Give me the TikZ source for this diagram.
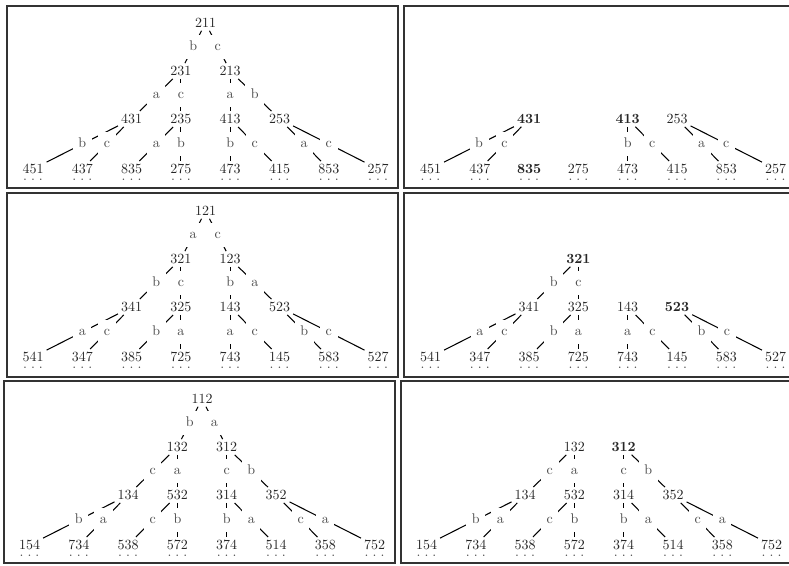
\documentclass[tikz,border=0pt]{standalone}
\usetikzlibrary{calc}
\tikzset{
  x=0.71429pt, y=-0.71429pt,
  num/.style={inner sep=2pt, text=black!85},
  bnum/.style={num, font=\bfseries},
  lab/.style={fill=white, inner sep=4pt, text height=7pt, text depth=2.5pt, text=black!70},
  edge/.style={draw=black, line width=0.75pt},
  frame/.style={draw=black!80, line width=1.2pt},
  dotsn/.style={inner sep=0pt, text=black!70}
}
\def\xa{33}\def\xb{82.3}\def\xc{131.6}\def\xd{180.9}
\def\xe{230.2}\def\xf{279.5}\def\xg{328.8}\def\xh{378.1}
\def\xr{205.5}
\newcommand\leaf[5][num]{\node[#1] (#2) at (#3,#4) {#5};
  \node[dotsn] (#2d) at ([yshift=-7.4pt]#2.center) {.\kern2.9pt.\kern2.9pt.};}
\newcommand\ed[3]{\draw[edge] (#1) -- node[lab]{#3} (#2);}
\begin{document}
\begin{tikzpicture}
\useasboundingbox (0,0) rectangle (789,565);
% frames
\draw[frame] (7,6) rectangle (398,188);
\draw[frame] (792,6) -- (404,6) -- (404,188) -- (792,188);
\draw[frame] (7,193) rectangle (398,377);
\draw[frame] (792,193) -- (404,193) -- (404,377) -- (792,377);
\draw[frame] (4,381) rectangle (395,563);
\draw[frame] (792,381) -- (401,381) -- (401,563) -- (792,563);

% ---------- top left ----------
\begin{scope}
\node[num] (A211) at (\xr,23) {211};
\node[num] (A231) at (\xd,71) {231};
\node[num] (A213) at (\xe,71) {213};
\node[num] (A431) at (\xc,119) {431};
\node[num] (A235) at (\xd,119) {235};
\node[num] (A413) at (\xe,119) {413};
\node[num] (A253) at (\xf,119) {253};
\leaf{A451}{\xa}{169}{451}
\leaf{A437}{\xb}{169}{437}
\leaf{A835}{\xc}{169}{835}
\leaf{A275}{\xd}{169}{275}
\leaf{A473}{\xe}{169}{473}
\leaf{A415}{\xf}{169}{415}
\leaf{A853}{\xg}{169}{853}
\leaf{A257}{\xh}{169}{257}
\ed{A211}{A231}{b}\ed{A211}{A213}{c}
\ed{A231}{A431}{a}\ed{A231}{A235}{c}
\ed{A213}{A413}{a}\ed{A213}{A253}{b}
\ed{A431}{A451}{b}\ed{A431}{A437}{c}
\ed{A235}{A835}{a}\ed{A235}{A275}{b}
\ed{A413}{A473}{b}\ed{A413}{A415}{c}
\ed{A253}{A853}{a}\ed{A253}{A257}{c}
\end{scope}

% ---------- top right ----------
\begin{scope}[shift={(397.5,0)}]
\node[bnum] (B431) at (\xc,119) {431};
\node[bnum] (B413) at (\xe,119) {413};
\node[num] (B253) at (\xf,119) {253};
\leaf{B451}{\xa}{169}{451}
\leaf{B437}{\xb}{169}{437}
\leaf[bnum]{B835}{\xc}{169}{835}
\leaf{B275}{\xd}{169}{275}
\leaf{B473}{\xe}{169}{473}
\leaf{B415}{\xf}{169}{415}
\leaf{B853}{\xg}{169}{853}
\leaf{B257}{\xh}{169}{257}
\ed{B431}{B451}{b}\ed{B431}{B437}{c}
\ed{B413}{B473}{b}\ed{B413}{B415}{c}
\ed{B253}{B853}{a}\ed{B253}{B257}{c}
\end{scope}

% ---------- middle left ----------
\begin{scope}[shift={(0,188)}]
\node[num] (C121) at (\xr,23) {121};
\node[num] (C321) at (\xd,71) {321};
\node[num] (C123) at (\xe,71) {123};
\node[num] (C341) at (\xc,119) {341};
\node[num] (C325) at (\xd,119) {325};
\node[num] (C143) at (\xe,119) {143};
\node[num] (C523) at (\xf,119) {523};
\leaf{C541}{\xa}{169}{541}
\leaf{C347}{\xb}{169}{347}
\leaf{C385}{\xc}{169}{385}
\leaf{C725}{\xd}{169}{725}
\leaf{C743}{\xe}{169}{743}
\leaf{C145}{\xf}{169}{145}
\leaf{C583}{\xg}{169}{583}
\leaf{C527}{\xh}{169}{527}
\ed{C121}{C321}{a}\ed{C121}{C123}{c}
\ed{C321}{C341}{b}\ed{C321}{C325}{c}
\ed{C123}{C143}{b}\ed{C123}{C523}{a}
\ed{C341}{C541}{a}\ed{C341}{C347}{c}
\ed{C325}{C385}{b}\ed{C325}{C725}{a}
\ed{C143}{C743}{a}\ed{C143}{C145}{c}
\ed{C523}{C583}{b}\ed{C523}{C527}{c}
\end{scope}

% ---------- middle right ----------
\begin{scope}[shift={(397.5,188)}]
\node[bnum] (D321) at (\xd,71) {321};
\node[num] (D341) at (\xc,119) {341};
\node[num] (D325) at (\xd,119) {325};
\node[num] (D143) at (\xe,119) {143};
\node[bnum] (D523) at (\xf,119) {523};
\leaf{D541}{\xa}{169}{541}
\leaf{D347}{\xb}{169}{347}
\leaf{D385}{\xc}{169}{385}
\leaf{D725}{\xd}{169}{725}
\leaf{D743}{\xe}{169}{743}
\leaf{D145}{\xf}{169}{145}
\leaf{D583}{\xg}{169}{583}
\leaf{D527}{\xh}{169}{527}
\ed{D321}{D341}{b}\ed{D321}{D325}{c}
\ed{D341}{D541}{a}\ed{D341}{D347}{c}
\ed{D325}{D385}{b}\ed{D325}{D725}{a}
\ed{D143}{D743}{a}\ed{D143}{D145}{c}
\ed{D523}{D583}{b}\ed{D523}{D527}{c}
\end{scope}

% ---------- bottom left ----------
\begin{scope}[shift={(-3.5,376)}]
\node[num] (E112) at (\xr,23) {112};
\node[num] (E132) at (\xd,71) {132};
\node[num] (E312) at (\xe,71) {312};
\node[num] (E134) at (\xc,119) {134};
\node[num] (E532) at (\xd,119) {532};
\node[num] (E314) at (\xe,119) {314};
\node[num] (E352) at (\xf,119) {352};
\leaf{E154}{\xa}{169}{154}
\leaf{E734}{\xb}{169}{734}
\leaf{E538}{\xc}{169}{538}
\leaf{E572}{\xd}{169}{572}
\leaf{E374}{\xe}{169}{374}
\leaf{E514}{\xf}{169}{514}
\leaf{E358}{\xg}{169}{358}
\leaf{E752}{\xh}{169}{752}
\ed{E112}{E132}{b}\ed{E112}{E312}{a}
\ed{E132}{E134}{c}\ed{E132}{E532}{a}
\ed{E312}{E314}{c}\ed{E312}{E352}{b}
\ed{E134}{E154}{b}\ed{E134}{E734}{a}
\ed{E532}{E538}{c}\ed{E532}{E572}{b}
\ed{E314}{E374}{b}\ed{E314}{E514}{a}
\ed{E352}{E358}{c}\ed{E352}{E752}{a}
\end{scope}

% ---------- bottom right ----------
\begin{scope}[shift={(393.5,376)}]
\node[num] (F132) at (\xd,71) {132};
\node[bnum] (F312) at (\xe,71) {312};
\node[num] (F134) at (\xc,119) {134};
\node[num] (F532) at (\xd,119) {532};
\node[num] (F314) at (\xe,119) {314};
\node[num] (F352) at (\xf,119) {352};
\leaf{F154}{\xa}{169}{154}
\leaf{F734}{\xb}{169}{734}
\leaf{F538}{\xc}{169}{538}
\leaf{F572}{\xd}{169}{572}
\leaf{F374}{\xe}{169}{374}
\leaf{F514}{\xf}{169}{514}
\leaf{F358}{\xg}{169}{358}
\leaf{F752}{\xh}{169}{752}
\ed{F132}{F134}{c}\ed{F132}{F532}{a}
\ed{F312}{F314}{c}\ed{F312}{F352}{b}
\ed{F134}{F154}{b}\ed{F134}{F734}{a}
\ed{F532}{F538}{c}\ed{F532}{F572}{b}
\ed{F314}{F374}{b}\ed{F314}{F514}{a}
\ed{F352}{F358}{c}\ed{F352}{F752}{a}
\end{scope}
\end{tikzpicture}
\end{document}
